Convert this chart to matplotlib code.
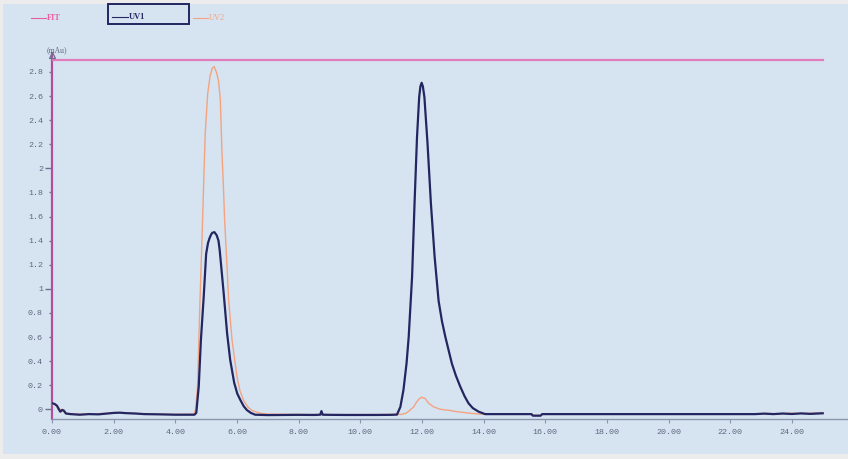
import matplotlib
matplotlib.use("Agg")
import matplotlib.pyplot as plt
from matplotlib.lines import Line2D
from matplotlib.patches import Rectangle
from matplotlib.ticker import FixedLocator, FuncFormatter

# ---------------- data ----------------
uv1_time = [0.00, 0.08, 0.16, 0.22, 0.27, 0.33, 0.38, 0.45, 0.60, 0.90, 1.20, 1.50,
            1.80, 2.00, 2.20, 2.40, 2.70, 3.00, 3.50, 4.00, 4.40, 4.62, 4.68, 4.76,
            4.83, 4.92, 5.00, 5.06, 5.11, 5.16, 5.20, 5.27, 5.34, 5.40, 5.44, 5.48,
            5.57, 5.68, 5.78, 5.91, 6.01, 6.11, 6.22, 6.32, 6.45, 6.59, 7.00, 7.50,
            8.00, 8.50, 8.70, 8.74, 8.78, 9.00, 9.50, 10.00, 10.50, 11.00, 11.19,
            11.30, 11.40, 11.50, 11.57, 11.68, 11.76, 11.84, 11.91, 11.95, 11.99,
            12.03, 12.08, 12.18, 12.29, 12.41, 12.54, 12.65, 12.76, 12.97, 13.10,
            13.24, 13.38, 13.51, 13.65, 13.84, 14.05, 14.50, 15.00, 15.55, 15.60,
            15.85, 15.90, 16.50, 18.00, 19.40, 21.00, 22.80, 23.10, 23.40, 23.70,
            24.00, 24.30, 24.60, 25.00]
uv1_value = [0.050, 0.045, 0.030, 0.000, -0.020, -0.005, -0.010, -0.035, -0.040, -0.045,
             -0.040, -0.042, -0.035, -0.030, -0.028, -0.032, -0.035, -0.040, -0.042,
             -0.045, -0.045, -0.045, -0.030, 0.190, 0.575, 0.930, 1.290, 1.380, 1.420,
             1.450, 1.465, 1.470, 1.445, 1.400, 1.320, 1.210, 0.960, 0.630, 0.410,
             0.220, 0.130, 0.077, 0.025, -0.006, -0.030, -0.045, -0.048, -0.047,
             -0.046, -0.047, -0.045, -0.015, -0.045, -0.046, -0.047, -0.047, -0.047,
             -0.046, -0.044, 0.020, 0.160, 0.380, 0.600, 1.100, 1.710, 2.260, 2.590,
             2.680, 2.710, 2.680, 2.590, 2.210, 1.710, 1.270, 0.900, 0.730, 0.600,
             0.380, 0.280, 0.190, 0.110, 0.050, 0.010, -0.020, -0.040, -0.040, -0.040,
             -0.040, -0.053, -0.053, -0.040, -0.040, -0.040, -0.040, -0.040, -0.040,
             -0.036, -0.040, -0.035, -0.039, -0.034, -0.038, -0.033]

uv2_time = [0.00, 0.10, 0.20, 0.30, 0.40, 0.50, 0.90, 1.50, 2.10, 2.40, 3.00, 4.00,
            4.60, 4.66, 4.72, 4.80, 4.87, 4.92, 4.97, 5.05, 5.13, 5.20, 5.26, 5.33,
            5.40, 5.46, 5.51, 5.56, 5.60, 5.65, 5.73, 5.84, 6.00, 6.10, 6.21, 6.35,
            6.49, 6.76, 7.00, 8.00, 9.00, 10.00, 11.35, 11.50, 11.60, 11.73, 11.80,
            11.90, 11.99, 12.10, 12.22, 12.38, 12.60, 12.92, 13.14, 13.57, 13.90,
            15.00, 15.55, 15.60, 15.85, 15.90, 17.00, 19.40, 21.00, 22.80, 23.20,
            23.60, 24.00, 24.40, 24.80, 25.00]
uv2_value = [0.040, 0.045, 0.020, -0.010, -0.020, -0.035, -0.040, -0.037, -0.027,
             -0.030, -0.038, -0.042, -0.040, 0.000, 0.190, 0.900, 1.450, 1.875, 2.290,
             2.620, 2.770, 2.830, 2.845, 2.800, 2.730, 2.570, 2.150, 1.850, 1.570,
             1.320, 0.910, 0.575, 0.270, 0.150, 0.077, 0.020, -0.010, -0.033, -0.040,
             -0.043, -0.044, -0.044, -0.042, -0.030, -0.010, 0.020, 0.050, 0.085, 0.100,
             0.090, 0.050, 0.020, 0.000, -0.010, -0.020, -0.033, -0.040, -0.040, -0.040,
             -0.050, -0.050, -0.040, -0.040, -0.038, -0.038, -0.038, -0.034, -0.038,
             -0.032, -0.036, -0.030, -0.032]

fit_time = [0.0, 25.0]
fit_value = [2.9, 2.9]

x_ticks = [0, 2, 4, 6, 8, 10, 12, 14, 16, 18, 20, 22, 24]
x_tick_labels = ["0.00", "2.00", "4.00", "6.00", "8.00", "10.00", "12.00", "14.00",
                 "16.00", "18.00", "20.00", "22.00", "24.00"]
y_major = [0, 1, 2]
y_minor = [0.2, 0.4, 0.6, 0.8, 1.2, 1.4, 1.6, 1.8, 2.2, 2.4, 2.6, 2.8]

# ---------------- style ----------------
BG = "#d6e4f1"
BORDER = "#ececec"
NAVY = "#232660"
ORANGE = "#f4a380"
PINK = "#e37cba"
SPINE_Y = "#b0509a"
TXT = "#5f6680"

W, H = 848, 459
fig = plt.figure(figsize=(W / 100, H / 100), dpi=100, facecolor=BORDER)
fig.patches.append(Rectangle((3 / W, 1 - 454 / H), 1, (454 - 4) / H,
                             transform=fig.transFigure, facecolor=BG,
                             edgecolor="none", zorder=-10))

ax = fig.add_axes([52 / W, 1 - 419.3 / H, (W - 52) / W, (419.3 - 53) / H])
ax.set_facecolor("none")
ax.set_xlim(0, 25.82)
ax.set_ylim(-0.083, 2.957)

ax.plot(uv2_time, uv2_value, color=ORANGE, lw=1.0, zorder=3)
ax.plot(uv1_time, uv1_value, color=NAVY, lw=1.6, zorder=4)
ax.plot(fit_time, fit_value, color=PINK, lw=1.6, zorder=5)

for s in ("top", "right"):
    ax.spines[s].set_visible(False)
ax.spines["left"].set_color(SPINE_Y)
ax.spines["left"].set_linewidth(1.6)
ax.spines["bottom"].set_color("#8a96ad")
ax.spines["bottom"].set_linewidth(1.0)

ax.xaxis.set_major_locator(FixedLocator(x_ticks))
ax.set_xticklabels(x_tick_labels)
ax.tick_params(axis="x", direction="out", length=3, width=0.8, color="#8a96ad",
               pad=4, labelsize=6, labelcolor=TXT)

ax.yaxis.set_major_locator(FixedLocator(y_major))
ax.yaxis.set_minor_locator(FixedLocator(y_minor))
ax.yaxis.set_major_formatter(FuncFormatter(lambda v, p: f"{v:g}"))
ax.yaxis.set_minor_formatter(FuncFormatter(lambda v, p: f"{v:g}"))
ax.tick_params(axis="y", which="major", direction="out", length=5, width=1.0,
               color="#6a7090", pad=1.5, labelsize=6, labelcolor=TXT)
ax.tick_params(axis="y", which="minor", direction="out", length=2.5, width=1.0,
               color="#6a7090", pad=4, labelsize=6, labelcolor=TXT)
for lab in ax.get_xticklabels() + ax.get_yticklabels() + ax.get_yticklabels(minor=True):
    lab.set_fontfamily("Liberation Mono")

# y-axis arrow and unit
ax.plot([0], [2.94], marker="^", markersize=5, markerfacecolor="none",
        markeredgecolor="#6a7090", markeredgewidth=0.9, clip_on=False, zorder=6)
fig.text(47 / W, 1 - 50 / H, "(mAu)", fontsize=5.5, color=TXT,
         family="Liberation Serif", ha="left", va="center")

# legend across the top
def legend_item(x0, x1, y, color, label, lw, bold=True):
    fig.lines.append(Line2D([x0 / W, x1 / W], [1 - y / H, 1 - y / H],
                            transform=fig.transFigure, color=color, lw=lw))
    fig.text((x1 + 1) / W, 1 - y / H, label, fontsize=6, color=color,
             family="Liberation Serif", fontweight="bold" if bold else "normal",
             ha="left", va="center")

legend_item(31, 46, 18, "#e8609e", "FIT", 0.8)
fig.patches.append(Rectangle((108 / W, 1 - 24 / H), 81 / W, 20 / H,
                             transform=fig.transFigure, facecolor="none",
                             edgecolor=NAVY, lw=1.4))
legend_item(112, 128, 17, NAVY, "UV1", 0.8)
legend_item(193, 208, 18, ORANGE, "UV2", 0.8, bold=False)

fig.savefig("out.png", dpi=100, facecolor=fig.get_facecolor())
